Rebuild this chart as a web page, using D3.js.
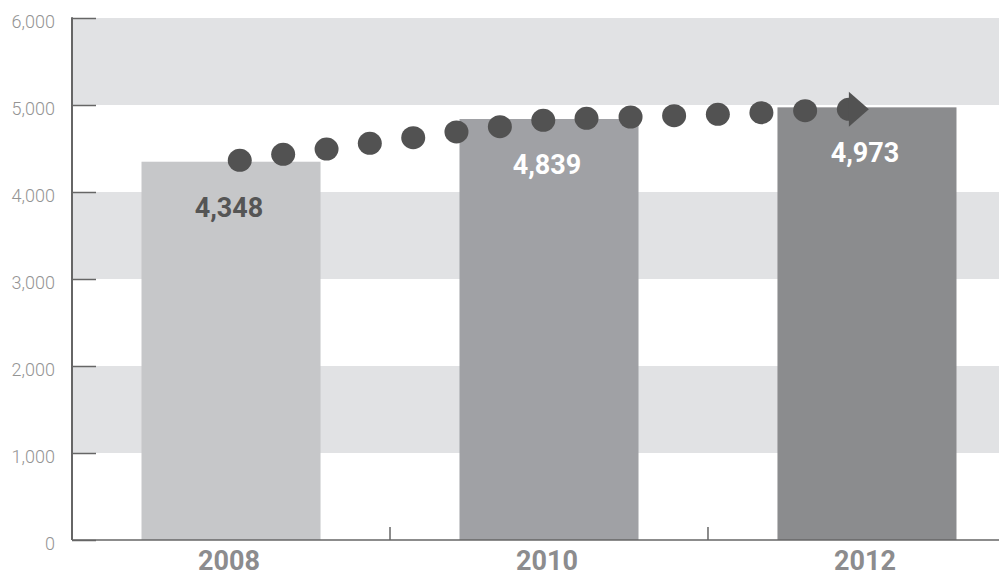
<!DOCTYPE html>
<html>
<head>
<meta charset="utf-8">
<script src="https://cdn.jsdelivr.net/npm/d3@7"></script>
<style>
  html, body { margin: 0; padding: 0; background: #fff; }
  svg { display: block; }
</style>
</head>
<body>
<svg id="chart" width="999" height="576"></svg>
<script>
// ---- data ----
const years = ["2008", "2010", "2012"];
const values = [4348, 4839, 4973];
const valueLabels = ["4,348", "4,839", "4,973"];
const barColors = ["#c6c7c9", "#a0a1a5", "#8b8c8e"];
const labelColors = ["#555555", "#ffffff", "#ffffff"];
const yTicks = [0, 1000, 2000, 3000, 4000, 5000, 6000];
// dotted trend arrow (fractional year, value)
const trendYears = [2008.055, 2008.328, 2008.601, 2008.873, 2009.146, 2009.418, 2009.691, 2009.964,
                    2010.236, 2010.513, 2010.787, 2011.062, 2011.336, 2011.611, 2011.886];
const trendValues = [4364, 4433, 4494, 4560, 4624, 4690, 4751, 4824,
                     4847, 4862, 4877, 4893, 4911, 4934, 4951];

// ---- layout ----
const svg = d3.select("#chart");
const mLeft = 72, mRight = 999, mTop = 18, mBottom = 540;

const x = d3.scaleBand().domain(years).range([mLeft, 1026])
  .paddingInner(0.437).paddingOuter(0.2186);
const y = d3.scaleLinear().domain([0, 6000]).range([mBottom, mTop]);
const xt = d3.scaleLinear().domain([2008, 2012])
  .range([x("2008") + x.bandwidth() / 2, x("2012") + x.bandwidth() / 2]);

// bands
const bands = [];
for (let i = 0; i < yTicks.length - 1; i++) bands.push([yTicks[i], yTicks[i + 1], i]);
svg.append("g").selectAll("rect").data(bands).join("rect")
  .attr("x", mLeft).attr("width", mRight - mLeft)
  .attr("y", d => y(d[1])).attr("height", d => y(d[0]) - y(d[1]))
  .attr("fill", d => d[2] % 2 === 1 ? "#e1e2e4" : "#ffffff");

// bars
svg.append("g").selectAll("rect").data(years).join("rect")
  .attr("x", d => x(d)).attr("width", x.bandwidth())
  .attr("y", (d, i) => y(values[i])).attr("height", (d, i) => y(0) - y(values[i]))
  .attr("fill", (d, i) => barColors[i]);

// y axis
const yAxis = d3.axisLeft(y).tickValues(yTicks).tickSize(-24).tickPadding(17)
  .tickFormat(d3.format(","));
const gy = svg.append("g").attr("transform", `translate(${mLeft},0)`).call(yAxis);
gy.select(".domain").remove();
gy.selectAll(".tick line").attr("stroke", "#666").attr("stroke-width", 1.5);
gy.selectAll(".tick text").attr("fill", "#949494")
  .style("font-family", "Roboto, sans-serif").style("font-weight", 300)
  .style("font-size", "18px").attr("dy", "0.5em");
svg.append("line").attr("x1", mLeft).attr("x2", mLeft).attr("y1", mTop - 0.75).attr("y2", mBottom)
  .attr("stroke", "#666").attr("stroke-width", 2);

// x axis
svg.append("line").attr("x1", mLeft).attr("x2", mRight).attr("y1", mBottom).attr("y2", mBottom)
  .attr("stroke", "#666").attr("stroke-width", 1.5);
const boundaries = years.slice(1).map(d => x(d) - x.step() * x.paddingInner() / 2);
svg.append("g").selectAll("line").data(boundaries).join("line")
  .attr("x1", d => d).attr("x2", d => d).attr("y1", mBottom).attr("y2", mBottom - 13)
  .attr("stroke", "#666").attr("stroke-width", 1.5);
svg.append("g").selectAll("text").data(years).join("text")
  .attr("x", d => x(d) + x.bandwidth() / 2 - 2).attr("y", 570)
  .attr("text-anchor", "middle").attr("fill", "#8c8c8e")
  .style("font-family", "Roboto, sans-serif").style("font-weight", 700)
  .style("font-size", "27px").text(d => d);

// value labels
svg.append("g").selectAll("text").data(years).join("text")
  .attr("x", d => x(d) + x.bandwidth() / 2 - 2)
  .attr("y", (d, i) => y(values[i]) + 55)
  .attr("text-anchor", "middle").attr("fill", (d, i) => labelColors[i])
  .style("font-family", "Roboto, sans-serif").style("font-weight", 700)
  .style("font-size", "27px").text((d, i) => valueLabels[i]);

// trend dots
const dotColor = "#525252";
const pts = trendYears.map((t, i) => [xt(t), y(trendValues[i])]);
svg.append("g").selectAll("ellipse").data(pts).join("ellipse")
  .attr("cx", d => d[0]).attr("cy", d => d[1]).attr("rx", 12).attr("ry", 11.5)
  .attr("fill", dotColor);
const last = pts[pts.length - 1];
svg.append("path")
  .attr("d", `M${last[0]},${last[1] - 17.5} L${last[0] + 20},${last[1]} L${last[0]},${last[1] + 17.5} Z`)
  .attr("fill", dotColor);
</script>
</body>
</html>
